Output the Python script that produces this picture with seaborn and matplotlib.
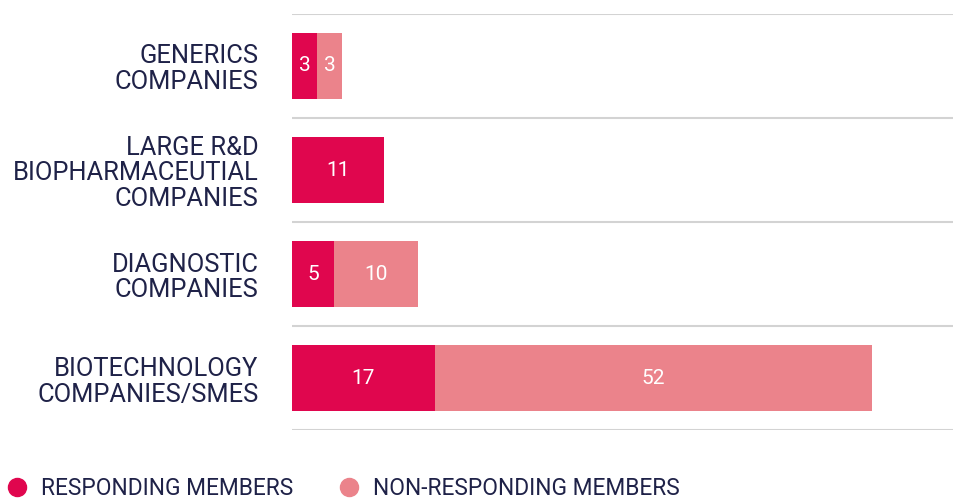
import matplotlib
matplotlib.use('Agg')
import matplotlib.pyplot as plt
from matplotlib.lines import Line2D
import pandas as pd
import seaborn as sns

# Data
categories = ['GENERICS\nCOMPANIES',
              'LARGE R&D\nBIOPHARMACEUTIAL\nCOMPANIES',
              'DIAGNOSTIC\nCOMPANIES',
              'BIOTECHNOLOGY\nCOMPANIES/SMES']
responding = [3, 11, 5, 17]
non_responding = [3, 0, 10, 52]
series_names = ['RESPONDING MEMBERS', 'NON-RESPONDING MEMBERS']

RED = '#E0064E'
PINK = '#EB838B'
TEXT = '#1F2248'
GRID = '#D3D3D3'

sns.set_theme(style='white')
plt.rcParams['font.family'] = ['Roboto', 'DejaVu Sans']

df = pd.DataFrame({'category': categories,
                   'responding': responding,
                   'non_responding': non_responding})
df['total'] = df['responding'] + df['non_responding']

fig = plt.figure(figsize=(9.54, 4.99), dpi=100)
ax = fig.add_axes([0.306, 0.138, 0.694, 0.834])

# stacked: full total in light colour, responding part drawn on top
sns.barplot(data=df, y='category', x='total', color=PINK, orient='h',
            width=0.635, saturation=1, ax=ax)
sns.barplot(data=df, y='category', x='responding', color=RED, orient='h',
            width=0.635, saturation=1, ax=ax)
for p in ax.patches:
    p.set_linewidth(0)

# value labels
for i, row in df.iterrows():
    if row['responding'] > 0:
        ax.text(row['responding'] / 2, i, str(row['responding']), color='white',
                ha='center', va='center', fontsize=15)
    if row['non_responding'] > 0:
        ax.text(row['responding'] + row['non_responding'] / 2, i,
                str(row['non_responding']), color='white',
                ha='center', va='center', fontsize=15)

ax.set_xlim(0, 78.8)
ax.set_ylim(len(categories) - 0.5, -0.5)
for yb in range(len(categories) + 1):
    ax.axhline(yb - 0.5, color=GRID, lw=1.5, zorder=0)

ax.set_xlabel('')
ax.set_ylabel('')
ax.set_xticks([])
ax.tick_params(axis='y', length=0, pad=24, labelsize=18.4, labelcolor=TEXT)
for lbl in ax.get_yticklabels():
    lbl.set_linespacing(1.1)
sns.despine(ax=ax, left=True, bottom=True)

handles = [Line2D([], [], marker='o', ls='', markersize=13, color=c)
           for c in (RED, PINK)]
fig.legend(handles, series_names, loc='center left', bbox_to_anchor=(0.0063, 0.022),
           ncol=2, frameon=False, fontsize=16.4, labelcolor=TEXT,
           borderpad=0, borderaxespad=0,
           handletextpad=0.55, columnspacing=1.95, handlelength=1.0)

plt.savefig('out.png', dpi=100)
